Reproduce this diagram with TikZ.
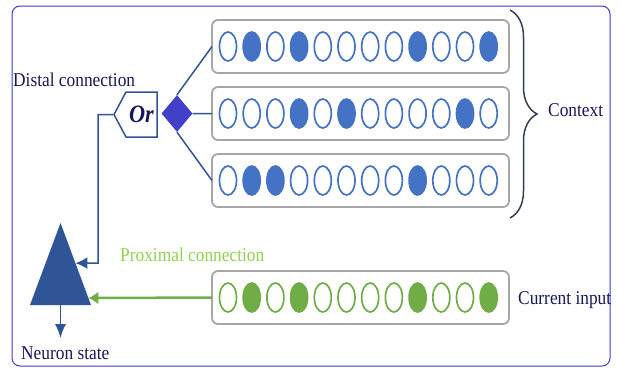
\documentclass[tikz,border=0pt]{standalone}
\usepackage{fontspec}
\setmainfont{Liberation Serif}[FakeStretch=0.89]
\usepackage{tikz}
\usetikzlibrary{shapes,arrows.meta,positioning,calc,decorations.pathreplacing}

\definecolor{navy}{HTML}{17175A}
\definecolor{framecol}{HTML}{3B3BD0}
\definecolor{boxgray}{HTML}{A6A6A6}
\definecolor{bitblue}{HTML}{4472C4}
\definecolor{bitgreen}{HTML}{70AD47}
\definecolor{lightgreen}{HTML}{92D050}
\definecolor{linkblue}{HTML}{2F5597}
\definecolor{diamblue}{HTML}{4040C8}
\definecolor{bracecol}{HTML}{333F50}

\begin{document}
\begin{tikzpicture}[
    x=1bp, y=-1bp,
    lbl/.style={font=\fontsize{19.5bp}{21bp}\selectfont, text=navy, inner sep=0},
    row/.style={rectangle, draw=boxgray, line width=1.8bp, rounded corners=6bp, outer sep=0, minimum width=297bp, minimum height=53bp},
    bit/.style={ellipse, draw=bitblue, line width=1.7bp, minimum width=17bp, minimum height=29bp, inner sep=0},
    gbit/.style={bit, draw=bitgreen},
    link/.style={draw=linkblue, line width=1.5bp},
    arrow/.style={-{Latex[length=12bp,width=12bp]}, link}
]
    \useasboundingbox (0,0) rectangle (623,370);
    \draw[framecol, line width=1bp, rounded corners=8bp] (12,6) rectangle (610,366);

    % Context rows
    \node[row] (row1) at (360.5,46.5) {};
    \node[row, below=14bp of row1] (row2) {};
    \node[row, below=14bp of row2] (row3) {};
    \node[row, below=64bp of row3] (input) {};

    \foreach \f [count=\i] in {white,bitblue,white,bitblue,white,white,white,white,bitblue,white,white,bitblue}
        \node[bit, fill=\f] (a\i) at ($(row1.west)+(16+23.7*\i-23.7,0)$) {};
    \foreach \f [count=\i] in {white,white,white,bitblue,white,bitblue,white,white,white,white,bitblue,white}
        \node[bit, fill=\f] (b\i) at ($(row2.west)+(16+23.7*\i-23.7,0)$) {};
    \foreach \f [count=\i] in {white,bitblue,bitblue,white,white,white,white,white,bitblue,white,white,white}
        \node[bit, fill=\f] (c\i) at ($(row3.west)+(16+23.7*\i-23.7,0)$) {};

    % Current input
    \foreach \f [count=\i] in {white,bitgreen,white,bitgreen,white,white,white,white,bitgreen,white,white,bitgreen}
        \node[gbit, fill=\f] (d\i) at ($(input.west)+(16+23.7*\i-23.7,0)$) {};

    \coordinate (ctop) at (510,10);
    \coordinate (cbot) at (510,218);
    \draw[decorate, decoration={brace, amplitude=27bp}, bracecol, line width=1.5bp] (ctop) -- (cbot);
    \node[lbl, anchor=base west] (context) at (548,116.7) {Context};
    \node[lbl, anchor=base west] (current) at (518,304) {Current input};

    % Distal side
    \node[diamond, fill=diamblue, minimum width=31bp, minimum height=37bp, aspect=0.84, inner sep=0] (join) at (177,113.5) {};
    \node[signal, signal to=west, signal pointer angle=124, draw=linkblue, line width=1.5bp, fill=white,
          minimum width=43bp, minimum height=45bp, inner sep=0, font=\fontsize{25bp}{26bp}\selectfont\bfseries\itshape, text=navy] (or) at (141.5,114.5) {Or};
    \draw[link] (join.north) -- (row1.west);
    \draw[link] (join.east) -- (row2.west);
    \draw[link] (join.south) -- (row3.west);
    \node[lbl, anchor=base west] (distal) at (13,86) {Distal connection};

    % Neuron
    \coordinate (apex) at (60.5,223);
    \coordinate (bl) at (30,305);
    \coordinate (br) at (91,305);
    \fill[linkblue] (apex) -- (bl) -- (br) -- cycle;
    \coordinate (bend) at (98,263);
    \coordinate (dtip) at ($(apex)!0.49!(br)$);
    \coordinate (ptip) at ($(apex)!0.915!(br)$);
    \coordinate (out) at (60.5,338);
    \draw[arrow] (or.west) -| (bend) -- (dtip);
    \draw[-{Latex[length=10bp,width=13bp]}, bitgreen, line width=2.5bp] (input.west) -- (ptip);
    \draw[link, -{Latex[length=14bp,width=11bp]}] ($(bl)!0.5!(br)$) -- (out);
    \node[lbl, anchor=base west, text=lightgreen] (proximal) at (120,261.7) {Proximal connection};
    \node[lbl, anchor=base west] (state) at (21,359) {Neuron state};
\end{tikzpicture}
\end{document}
